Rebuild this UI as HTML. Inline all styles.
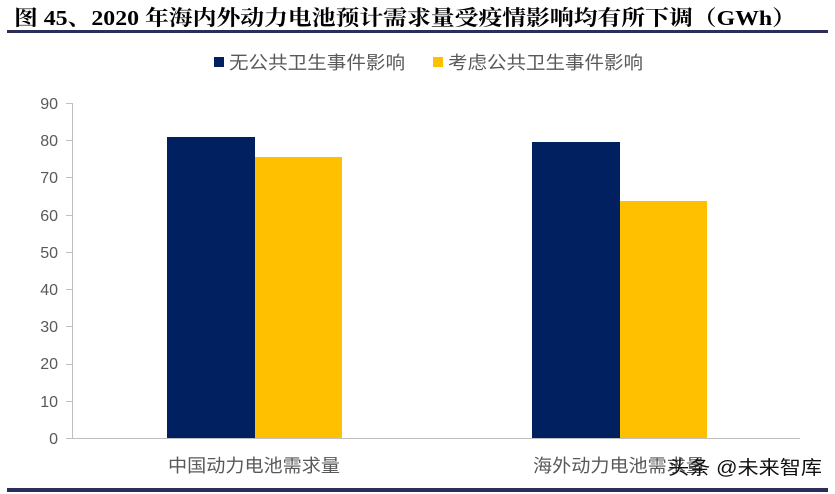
<!DOCTYPE html><html><head><meta charset="utf-8"><style>
body{margin:0;width:835px;height:494px;background:#fff;overflow:hidden;font-family:"Liberation Sans","Noto Sans CJK SC",sans-serif}
</style></head><body>
<svg width="835" height="494" xmlns="http://www.w3.org/2000/svg" style="position:absolute;left:0;top:0">
<text x="14" y="25" font-family="Liberation Serif,'Noto Serif CJK SC',serif" font-weight="bold" font-size="21" textLength="782" lengthAdjust="spacingAndGlyphs" fill="#000">图 45、2020 年海内外动力电池预计需求量受疫情影响均有所下调（GWh）</text>
<rect x="7" y="30" width="821" height="3" fill="#2b2d5a"/>
<rect x="7" y="488" width="821" height="4" fill="#2b2d5a"/>
<rect x="214" y="57" width="10" height="10" fill="#002060"/>
<text x="229" y="69" font-size="18" textLength="176" lengthAdjust="spacingAndGlyphs" fill="#595959">无公共卫生事件影响</text>
<rect x="433" y="57" width="10" height="10" fill="#FFC000"/>
<text x="448" y="69" font-size="18" textLength="195" lengthAdjust="spacingAndGlyphs" fill="#595959">考虑公共卫生事件影响</text>
<g font-size="16" fill="#595959" text-anchor="end">
<text x="58" y="444">0</text><text x="58" y="407">10</text><text x="58" y="369">20</text><text x="58" y="332">30</text><text x="58" y="295">40</text><text x="58" y="258">50</text><text x="58" y="221">60</text><text x="58" y="183">70</text><text x="58" y="146">80</text><text x="58" y="109">90</text>
</g>
<g stroke="#bfbfbf" stroke-width="1">
<line x1="72.5" y1="103" x2="72.5" y2="438"/>
<line x1="72" y1="438.5" x2="800" y2="438.5"/>
<line x1="66" y1="103.5" x2="72" y2="103.5"/><line x1="66" y1="140.5" x2="72" y2="140.5"/><line x1="66" y1="177.5" x2="72" y2="177.5"/><line x1="66" y1="215.5" x2="72" y2="215.5"/><line x1="66" y1="252.5" x2="72" y2="252.5"/><line x1="66" y1="289.5" x2="72" y2="289.5"/><line x1="66" y1="326.5" x2="72" y2="326.5"/><line x1="66" y1="364.5" x2="72" y2="364.5"/><line x1="66" y1="401.5" x2="72" y2="401.5"/><line x1="66" y1="438.5" x2="72" y2="438.5"/>
</g>
<rect x="167" y="137" width="88" height="301" fill="#002060"/>
<rect x="255" y="157" width="87" height="281" fill="#FFC000"/>
<rect x="532" y="142" width="88" height="296" fill="#002060"/>
<rect x="620" y="201" width="87" height="237" fill="#FFC000"/>
<g font-size="18" fill="#595959">
<text x="168" y="472" textLength="172" lengthAdjust="spacingAndGlyphs">中国动力电池需求量</text>
<text x="533" y="472" textLength="172" lengthAdjust="spacingAndGlyphs">海外动力电池需求量</text>
</g>
<text x="668" y="474" font-size="19" textLength="154" lengthAdjust="spacingAndGlyphs" fill="#111">头条 @未来智库</text>
</svg>
</body></html>
